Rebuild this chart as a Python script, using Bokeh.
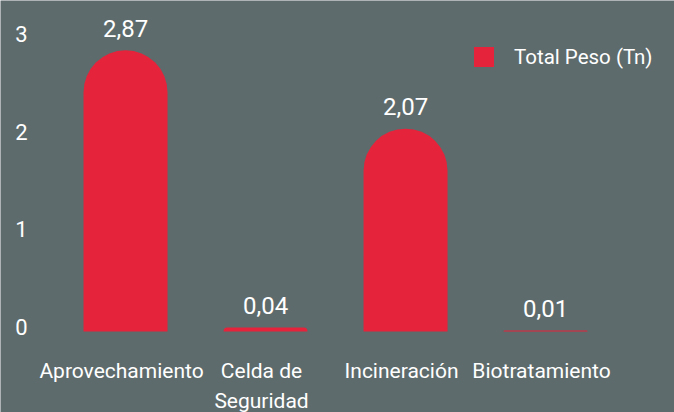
from bokeh.plotting import figure
from bokeh.models import Range1d, ColumnDataSource
from bokeh.core.properties import value
from bokeh.embed import file_html
from bokeh.resources import INLINE

categories = ["Aprovechamiento", "Celda de Seguridad", "Incineración", "Biotratamiento"]
category_labels = ["Aprovechamiento", "Celda de\nSeguridad", "Incineración", "Biotratamiento"]
total_peso = [2.87, 0.04, 2.07, 0.01]
y_ticks = [0, 1, 2, 3]
y_tick_labels = ["0", "1", "2", "3"]
series_name = "Total Peso (Tn)"

BG = "#5e6b6c"
RED = "#e5233b"
WHITE = "#ffffff"
FONT = "Roboto"

x = list(range(len(categories)))
value_labels = [f"{v:.2f}".replace(".", ",") for v in total_peso]
src = ColumnDataSource(dict(x=x, top=total_peso, label=value_labels,
                            cat=category_labels, zero=[0] * len(x)))

x_range = Range1d(-0.893, 3.921)
y_range = Range1d(-0.827, 3.378)
p = figure(width=674, height=412, output_backend="svg", toolbar_location=None,
           x_range=x_range, y_range=y_range,
           min_border_left=0, min_border_right=0, min_border_top=0, min_border_bottom=0)
p.background_fill_color = BG
p.border_fill_color = BG
p.outline_line_color = None
p.grid.visible = False
p.axis.visible = False

# y tick labels (value axis)
tick_src = ColumnDataSource(dict(y=y_ticks, t=y_tick_labels,
                                 x=[x_range.start] * len(y_ticks)))
p.text(x="x", y="y", text="t", source=tick_src, text_align="right",
       text_baseline="middle", x_offset=27, y_offset=-4, text_color=WHITE,
       text_font=value(FONT), text_font_size="22px")

p.vbar(x="x", top="top", bottom=0, width=0.6, source=src, fill_color=RED,
       line_color=None, border_radius=(42, 42, 0, 0), legend_label=series_name)

p.text(x="x", y="top", text="label", source=src, text_align="center",
       text_baseline="alphabetic", y_offset=-22, text_color=WHITE,
       text_font=value(FONT), text_font_size="24px")

p.text(x="x", y="zero", text="cat", source=src, text_align="center",
       text_baseline="top", x_offset=-4, y_offset=28, text_color=WHITE,
       text_font=value(FONT), text_font_size="21px", text_line_height=1.25)

lg = p.legend[0]
lg.location = (471, 343)
lg.padding = 0
lg.margin = 0
lg.spacing = 0
lg.border_line_color = None
lg.background_fill_alpha = 0
lg.glyph_width = 25
lg.glyph_height = 25
lg.label_standoff = 18
lg.label_text_color = WHITE
lg.label_text_font = FONT
lg.label_text_font_size = "20.5px"

open("out.html", "w").write(file_html(p, INLINE))
